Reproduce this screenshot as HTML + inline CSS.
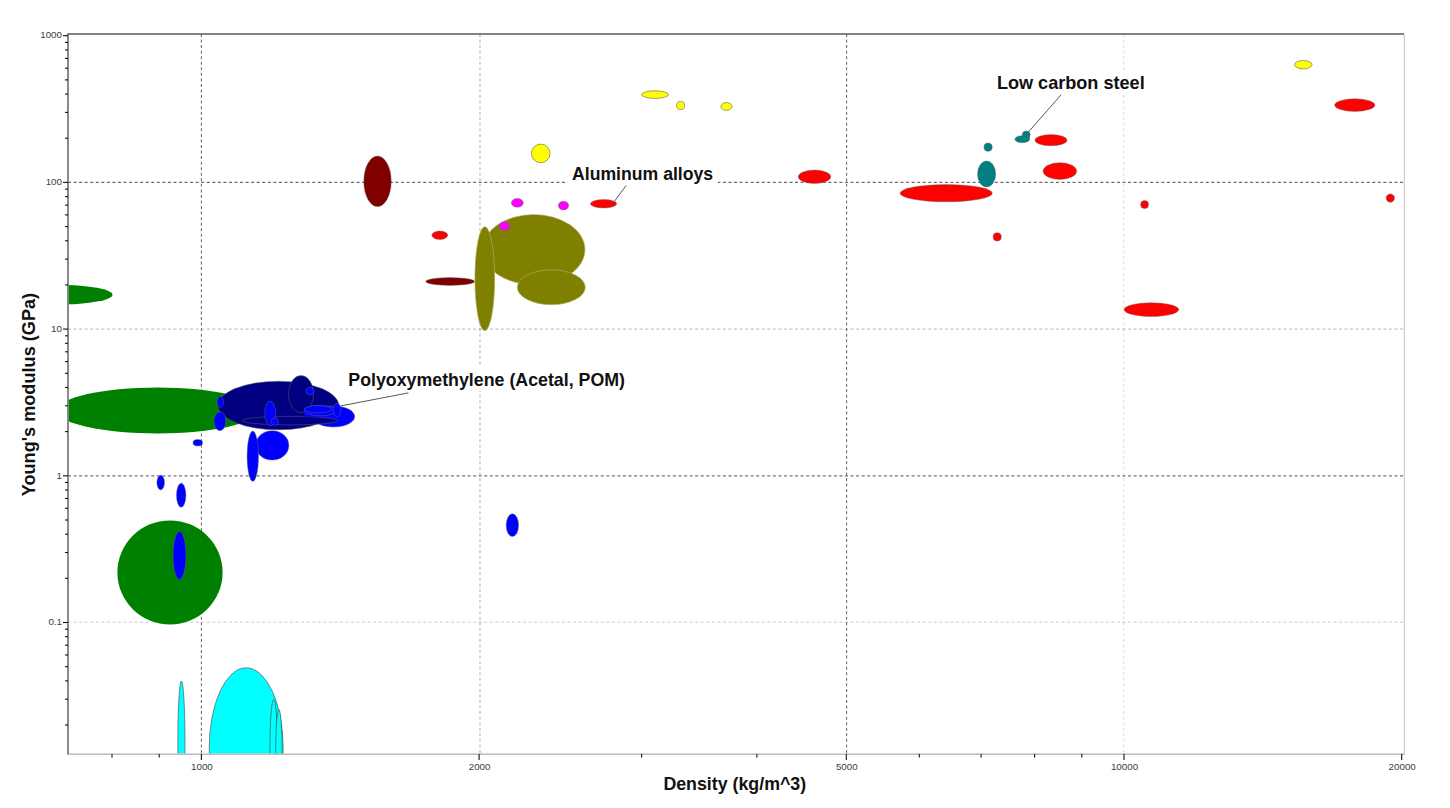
<!DOCTYPE html>
<html lang="en"><head><meta charset="utf-8"><title>Young's modulus vs Density</title>
<style>
html,body{margin:0;padding:0;background:#fff;}
body{width:1450px;height:808px;overflow:hidden;}
svg{display:block;}
text{font-family:"Liberation Sans",Arial,sans-serif;}
.lbl{font-size:17.6px;font-weight:bold;fill:#111;}
.tk{font-size:9.8px;fill:#3c3c3c;}
.e{stroke:#6a6a6a;stroke-width:0.6;stroke-opacity:0.75;}
.o{stroke:#b4b46e;stroke-width:0.6;}
.y{stroke:#444;stroke-width:0.5;}
.c{stroke:#444;stroke-width:0.6;}
.g{stroke:none;}
</style></head><body>
<svg width="1450" height="808" viewBox="0 0 1450 808">
<rect x="0" y="0" width="1450" height="808" fill="#ffffff"/>
<defs><clipPath id="plot"><rect x="68.6" y="34.6" width="1334.8" height="719"/></clipPath></defs>

<g fill="none" stroke="#000" stroke-dasharray="3 2.55">
<line x1="68" y1="182.4" x2="1404" y2="182.4" stroke-width="1.1" stroke-opacity="0.58"/>
<line x1="68" y1="329.1" x2="1404" y2="329.1" stroke-width="1.6" stroke-opacity="0.17"/>
<line x1="68" y1="475.9" x2="1404" y2="475.9" stroke-width="1.1" stroke-opacity="0.55"/>
<line x1="68" y1="622.3" x2="1404" y2="622.3" stroke-width="1.6" stroke-opacity="0.14"/>
<line x1="201.4" y1="34" x2="201.4" y2="754" stroke-width="1.1" stroke-opacity="0.56"/>
<line x1="480.0" y1="34" x2="480.0" y2="754" stroke-width="1.6" stroke-opacity="0.2"/>
<line x1="846.6" y1="34" x2="846.6" y2="754" stroke-width="1.1" stroke-opacity="0.56"/>
<line x1="1123.6" y1="34" x2="1123.6" y2="754" stroke-width="1.6" stroke-opacity="0.09"/>
</g>
<g clip-path="url(#plot)">
<ellipse class="g" cx="60" cy="294.7" rx="52.5" ry="9.7" fill="#008000"/>
<ellipse class="g" cx="157.5" cy="410.5" rx="100.5" ry="22.9" fill="#008000"/>
<ellipse class="g" cx="170" cy="572.4" rx="52.6" ry="52" fill="#008000"/>
<ellipse class="c" cx="181.4" cy="742" rx="3.6" ry="61" fill="#00ffff"/>
<ellipse class="c" cx="246.2" cy="748" rx="37" ry="80.2" fill="#00ffff"/>
<ellipse class="c" cx="273.7" cy="750" rx="3.8" ry="50.7" fill="#00ffff"/>
<ellipse class="c" cx="278.9" cy="752" rx="3.2" ry="42.5" fill="#00ffff"/>
<ellipse class="e" cx="278.4" cy="405.5" rx="60.4" ry="24.3" fill="#000080"/>
<ellipse class="e" cx="301" cy="394.2" rx="12.6" ry="18.6" fill="#000080"/>
<ellipse class="e" cx="333.5" cy="416.5" rx="21.2" ry="10.5" fill="#0000ff"/>
<ellipse class="e" cx="290" cy="420.6" rx="47.6" ry="4.3" fill="#000080"/>
<rect x="304.2" y="407.8" width="16" height="8.8" fill="#0000ff"/>
<ellipse class="e" cx="320.4" cy="410.6" rx="16.5" ry="5.2" fill="#0000ff"/>
<ellipse class="e" cx="318.2" cy="409.3" rx="13.7" ry="3.7" fill="#0000ff"/>
<ellipse class="e" cx="337.2" cy="410.1" rx="3.7" ry="6.8" fill="#0000ff"/>
<ellipse class="e" cx="310.1" cy="391.1" rx="3.9" ry="3.9" fill="#0000ff"/>
<ellipse class="e" cx="220.3" cy="401.9" rx="3.3" ry="5.3" fill="#0000ff"/>
<ellipse class="e" cx="219.9" cy="421.2" rx="5.9" ry="9.5" fill="#0000ff"/>
<ellipse class="e" cx="197.8" cy="442.7" rx="4.8" ry="3.3" fill="#0000ff"/>
<ellipse class="e" cx="270.2" cy="413.4" rx="5.4" ry="12.3" fill="#0000ff"/>
<ellipse class="e" cx="274.8" cy="421.6" rx="3.7" ry="3.7" fill="#0000ff"/>
<ellipse class="e" cx="272.2" cy="445.4" rx="16.7" ry="14.7" fill="#0000ff"/>
<ellipse class="e" cx="252.8" cy="456.2" rx="5.7" ry="25.1" fill="#0000ff"/>
<ellipse class="e" cx="160.7" cy="482.6" rx="3.8" ry="7.3" fill="#0000ff"/>
<ellipse class="e" cx="181.2" cy="495.2" rx="4.7" ry="12" fill="#0000ff"/>
<ellipse class="e" cx="179.5" cy="555.5" rx="6.5" ry="24.1" fill="#0000ff"/>
<ellipse class="e" cx="512.4" cy="525.2" rx="6.2" ry="11.4" fill="#0000ff"/>
<ellipse class="e" cx="377.5" cy="181.3" rx="13.7" ry="25.3" fill="#800000"/>
<ellipse class="e" cx="450.2" cy="281.5" rx="24.4" ry="3.9" fill="#800000"/>
<ellipse class="o" cx="533.8" cy="249.6" rx="51.2" ry="35.1" fill="#808000"/>
<ellipse class="o" cx="551.3" cy="287.3" rx="34" ry="17.4" fill="#808000"/>
<ellipse class="o" cx="484.8" cy="278.7" rx="9.9" ry="52" fill="#808000"/>
<ellipse class="e" cx="517.3" cy="202.8" rx="6" ry="4.4" fill="#ff00ff"/>
<ellipse class="e" cx="563.5" cy="205.6" rx="5.2" ry="4.3" fill="#ff00ff"/>
<ellipse class="e" cx="504.3" cy="226.2" rx="5.2" ry="4.4" fill="#ff00ff"/>
<ellipse class="y" cx="540.7" cy="153.4" rx="9.3" ry="9.3" fill="#ffff00"/>
<ellipse class="y" cx="655.1" cy="94.6" rx="13.6" ry="3.8" fill="#ffff00"/>
<ellipse class="y" cx="680.6" cy="105.5" rx="4.0" ry="4.1" fill="#ffff00"/>
<ellipse class="y" cx="726.5" cy="106.5" rx="5.6" ry="3.9" fill="#ffff00"/>
<ellipse class="y" cx="1303.3" cy="64.7" rx="8.8" ry="4.2" fill="#ffff00"/>
<ellipse class="e" cx="603.6" cy="203.8" rx="13.1" ry="4.2" fill="#ff0000"/>
<ellipse class="e" cx="439.8" cy="235.3" rx="7.9" ry="4.2" fill="#ff0000"/>
<ellipse class="e" cx="814.5" cy="176.8" rx="16.3" ry="6.7" fill="#ff0000"/>
<ellipse class="e" cx="946.2" cy="193.2" rx="46.1" ry="8.6" fill="#ff0000"/>
<ellipse class="e" cx="1051" cy="140.2" rx="16" ry="5.6" fill="#ff0000"/>
<ellipse class="e" cx="1059.9" cy="171.1" rx="16.8" ry="8.4" fill="#ff0000"/>
<ellipse class="e" cx="1144.6" cy="204.6" rx="4" ry="4" fill="#ff0000"/>
<ellipse class="e" cx="997.2" cy="236.9" rx="4.1" ry="4.1" fill="#ff0000"/>
<ellipse class="e" cx="1354.8" cy="105.1" rx="20.2" ry="6.3" fill="#ff0000"/>
<ellipse class="e" cx="1390.3" cy="198.1" rx="4.2" ry="4.2" fill="#ff0000"/>
<ellipse class="e" cx="1151.4" cy="309.6" rx="27.3" ry="6.8" fill="#ff0000"/>
<ellipse class="e" cx="986.6" cy="174" rx="9.1" ry="13" fill="#008080"/>
<ellipse class="e" cx="988.1" cy="147.2" rx="4.1" ry="4.1" fill="#008080"/>
<ellipse class="e" cx="1022.3" cy="139.2" rx="7.4" ry="3.5" fill="#008080"/>
<ellipse class="e" cx="1026.2" cy="135" rx="4" ry="4" fill="#008080"/>
</g>
<line x1="68" y1="754.1" x2="1404.6" y2="754.1" stroke="#adadad" stroke-width="1.05"/>
<line x1="1404.3" y1="34" x2="1404.3" y2="754.8" stroke="#c8c8c8" stroke-width="1.1"/>
<line x1="67.2" y1="34" x2="1404" y2="34" stroke="#5a5a5a" stroke-width="1.4"/>
<line x1="68" y1="34" x2="68" y2="754.6" stroke="#777" stroke-width="1.7"/>
<g stroke="#111" stroke-width="1.1">
<line x1="65" y1="725.0" x2="68" y2="725.0"/>
<line x1="65" y1="699.2" x2="68" y2="699.2"/>
<line x1="65" y1="680.9" x2="68" y2="680.9"/>
<line x1="65" y1="666.7" x2="68" y2="666.7"/>
<line x1="65" y1="655.0" x2="68" y2="655.0"/>
<line x1="65" y1="645.2" x2="68" y2="645.2"/>
<line x1="65" y1="636.7" x2="68" y2="636.7"/>
<line x1="65" y1="629.2" x2="68" y2="629.2"/>
<line x1="63" y1="622.5" x2="68" y2="622.5"/>
<line x1="65" y1="578.3" x2="68" y2="578.3"/>
<line x1="65" y1="552.5" x2="68" y2="552.5"/>
<line x1="65" y1="534.2" x2="68" y2="534.2"/>
<line x1="65" y1="520.0" x2="68" y2="520.0"/>
<line x1="65" y1="508.3" x2="68" y2="508.3"/>
<line x1="65" y1="498.5" x2="68" y2="498.5"/>
<line x1="65" y1="490.0" x2="68" y2="490.0"/>
<line x1="65" y1="482.5" x2="68" y2="482.5"/>
<line x1="63" y1="475.8" x2="68" y2="475.8"/>
<line x1="65" y1="431.6" x2="68" y2="431.6"/>
<line x1="65" y1="405.8" x2="68" y2="405.8"/>
<line x1="65" y1="387.5" x2="68" y2="387.5"/>
<line x1="65" y1="373.3" x2="68" y2="373.3"/>
<line x1="65" y1="361.6" x2="68" y2="361.6"/>
<line x1="65" y1="351.8" x2="68" y2="351.8"/>
<line x1="65" y1="343.3" x2="68" y2="343.3"/>
<line x1="65" y1="335.8" x2="68" y2="335.8"/>
<line x1="63" y1="329.1" x2="68" y2="329.1"/>
<line x1="65" y1="284.9" x2="68" y2="284.9"/>
<line x1="65" y1="259.1" x2="68" y2="259.1"/>
<line x1="65" y1="240.8" x2="68" y2="240.8"/>
<line x1="65" y1="226.6" x2="68" y2="226.6"/>
<line x1="65" y1="214.9" x2="68" y2="214.9"/>
<line x1="65" y1="205.1" x2="68" y2="205.1"/>
<line x1="65" y1="196.6" x2="68" y2="196.6"/>
<line x1="65" y1="189.1" x2="68" y2="189.1"/>
<line x1="63" y1="182.4" x2="68" y2="182.4"/>
<line x1="65" y1="138.2" x2="68" y2="138.2"/>
<line x1="65" y1="112.4" x2="68" y2="112.4"/>
<line x1="65" y1="94.1" x2="68" y2="94.1"/>
<line x1="65" y1="79.9" x2="68" y2="79.9"/>
<line x1="65" y1="68.2" x2="68" y2="68.2"/>
<line x1="65" y1="58.4" x2="68" y2="58.4"/>
<line x1="65" y1="49.9" x2="68" y2="49.9"/>
<line x1="65" y1="42.4" x2="68" y2="42.4"/>
<line x1="63" y1="35.7" x2="68" y2="35.7"/>
<line x1="112.0" y1="754" x2="112.0" y2="757.5"/>
<line x1="159.2" y1="754" x2="159.2" y2="757.5"/>
<line x1="201.4" y1="754" x2="201.4" y2="760"/>
<line x1="479.1" y1="754" x2="479.1" y2="760"/>
<line x1="641.6" y1="754" x2="641.6" y2="757.5"/>
<line x1="756.9" y1="754" x2="756.9" y2="757.5"/>
<line x1="846.3" y1="754" x2="846.3" y2="760"/>
<line x1="919.3" y1="754" x2="919.3" y2="757.5"/>
<line x1="981.1" y1="754" x2="981.1" y2="757.5"/>
<line x1="1034.6" y1="754" x2="1034.6" y2="757.5"/>
<line x1="1081.8" y1="754" x2="1081.8" y2="757.5"/>
<line x1="1124.0" y1="754" x2="1124.0" y2="760"/>
<line x1="1401.7" y1="754" x2="1401.7" y2="760"/>
</g>
<text class="tk" x="62" y="38.4" text-anchor="end">1000</text>
<text class="tk" x="62" y="185.1" text-anchor="end">100</text>
<text class="tk" x="62" y="331.8" text-anchor="end">10</text>
<text class="tk" x="62" y="478.5" text-anchor="end">1</text>
<text class="tk" x="62" y="625.2" text-anchor="end">0.1</text>
<text class="tk" x="201.9" y="769.5" text-anchor="middle">1000</text>
<text class="tk" x="479.6" y="769.5" text-anchor="middle">2000</text>
<text class="tk" x="846.8" y="769.5" text-anchor="middle">5000</text>
<text class="tk" x="1124.5" y="769.5" text-anchor="middle">10000</text>
<text class="tk" x="1402.2" y="769.5" text-anchor="middle">20000</text>
<g stroke="#444" stroke-width="0.9" fill="none">
<line x1="626.1" y1="185.5" x2="614.5" y2="201.2"/>
<line x1="1061.2" y1="94.7" x2="1026.9" y2="133.7"/>
<line x1="408.4" y1="392.9" x2="340.8" y2="405.9"/>
</g>
<rect x="567.3" y="163.5" width="150.6" height="20.5" fill="#fff"/>
<text class="lbl" style="font-size:17.65px" x="572" y="179.7">Aluminum alloys</text>
<rect x="993" y="72.9" width="155" height="20" fill="#fff"/>
<text class="lbl" style="font-size:18.1px" x="996.9" y="89.3">Low carbon steel</text>
<rect x="344" y="367" width="286" height="24" fill="#fff"/>
<text class="lbl" style="font-size:17.8px" x="348.3" y="385.8">Polyoxymethylene (Acetal, POM)</text>
<text class="lbl" style="font-size:17.8px" x="734.8" y="790" text-anchor="middle">Density (kg/m^3)</text>
<text class="lbl" style="font-size:18.15px" transform="translate(35,394.6) rotate(-90)" text-anchor="middle">Young's modulus (GPa)</text>
</svg></body></html>
